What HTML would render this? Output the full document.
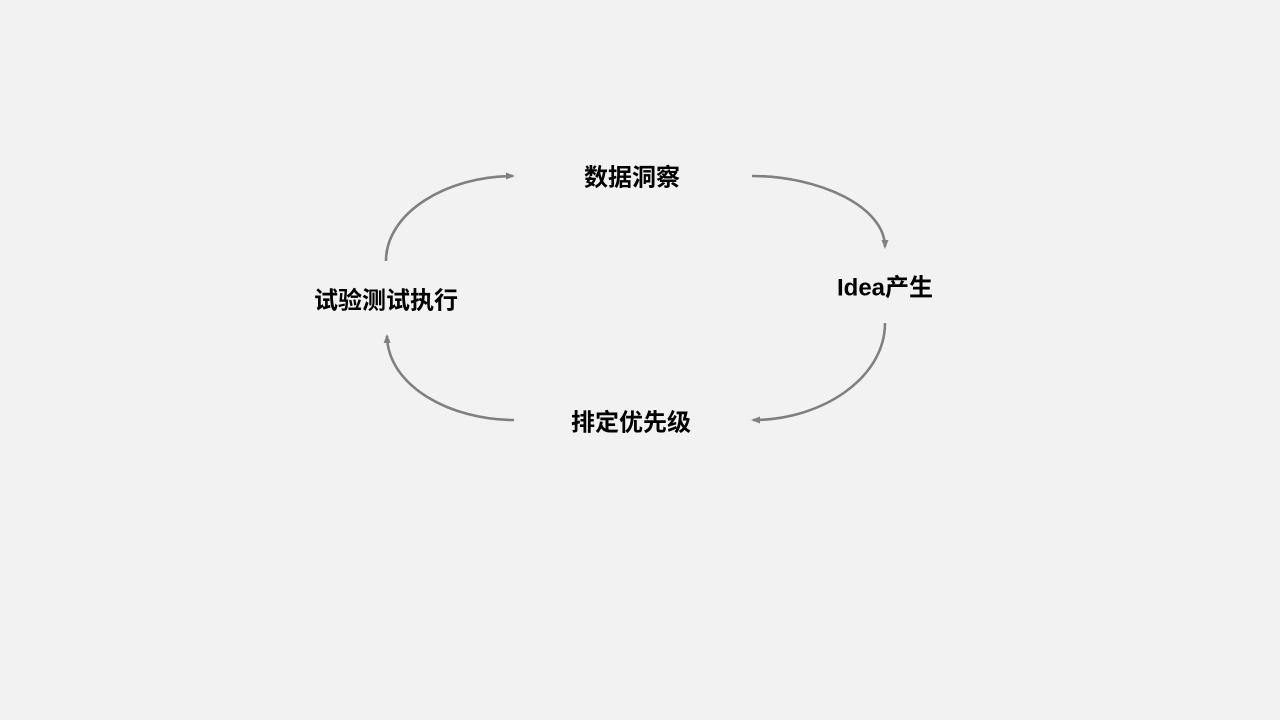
<!DOCTYPE html>
<html><head><meta charset="utf-8"><style>
html,body{margin:0;padding:0;background:#f2f2f2;}
svg{display:block}
text{font-family:"Liberation Sans","Noto Sans CJK SC",sans-serif;font-weight:bold;font-size:24px;fill:#000;text-anchor:middle;dominant-baseline:central}
</style></head><body>
<svg width="1280" height="720" viewBox="0 0 1280 720">
<defs><marker id="a" markerWidth="9" markerHeight="9" refX="7" refY="4.5" orient="auto" markerUnits="userSpaceOnUse"><path d="M0,1 L9,4.5 L0,8 Z" fill="#808080"/></marker></defs>
<g fill="none" stroke="#808080" stroke-width="2.6">
<path d="M386,261 C386,212 448,176 513,176" marker-end="url(#a)"/>
<path d="M752,176 C820,176 885,207 885,247" marker-end="url(#a)"/>
<path d="M885,323 C885,378 822,420 753,420" marker-end="url(#a)"/>
<path d="M514,420 C450,420 388,386 387,336" marker-end="url(#a)"/>
</g>
<text x="632" y="178">数据洞察</text>
<text x="885" y="288">Idea产生</text>
<text x="386" y="301">试验测试执行</text>
<text x="631" y="423">排定优先级</text>
</svg>
</body></html>
